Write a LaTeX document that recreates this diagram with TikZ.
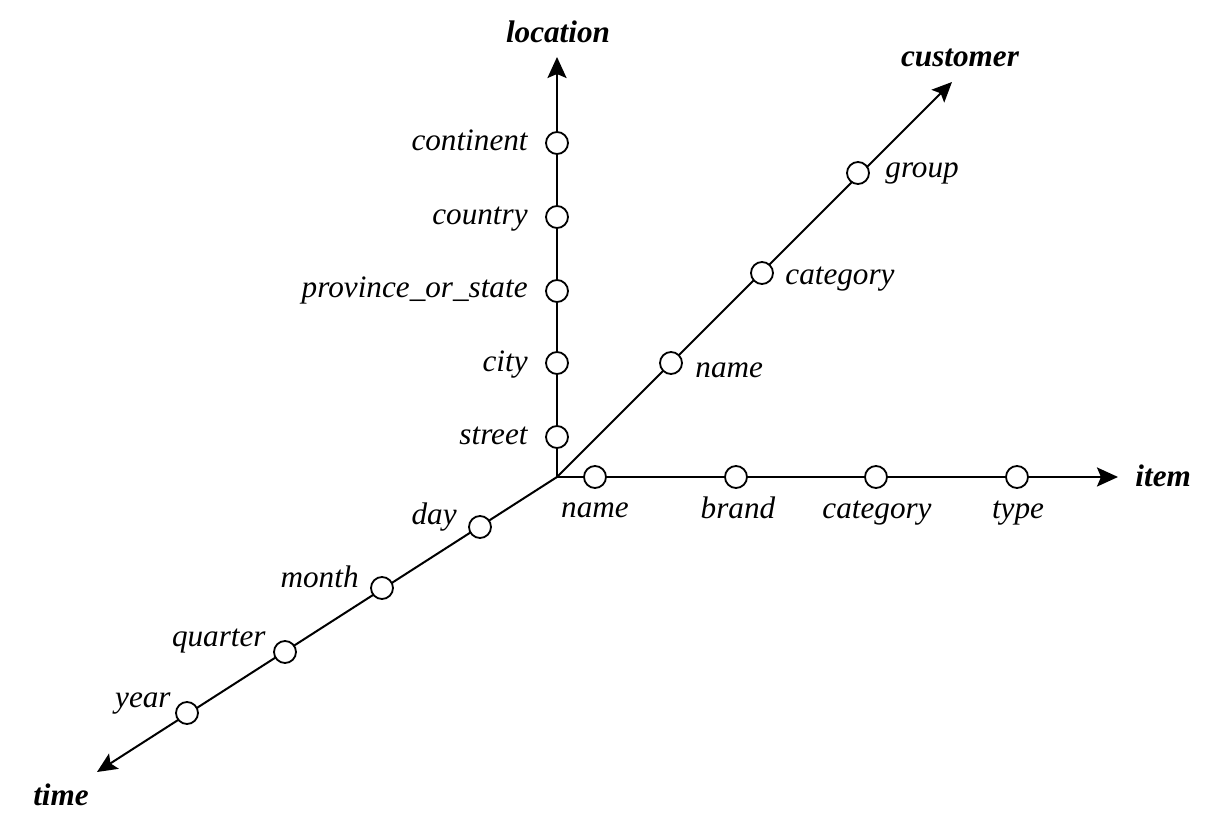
\documentclass[tikz,border=0pt]{standalone}
\usepackage{fontspec}
\setmainfont{LiberationSerif-Regular.ttf}[ItalicFont=LiberationSerif-Italic.ttf, BoldFont=LiberationSerif-Bold.ttf, BoldItalicFont=LiberationSerif-BoldItalic.ttf]
\usetikzlibrary{arrows.meta}
\tikzset{
  dot/.style={circle, draw, fill=white, line width=0.9pt, inner sep=0pt, minimum size=11pt},
  lbl/.style={font=\fontsize{15.6}{18}\selectfont\itshape, inner sep=0pt},
  axislbl/.style={font=\fontsize{15.6}{18}\selectfont\bfseries\itshape, inner sep=0pt},
  axis/.style={line width=1.2pt, -{Stealth[length=10.5pt, width=9.5pt, inset=2pt]}},
  diag/.style={line width=1pt, -{Stealth[length=10pt, width=9pt, inset=2pt]}},
}
\begin{document}
\begin{tikzpicture}[x=0.5pt, y=-0.5pt]
                \useasboundingbox (0,0) rectangle (1232,822);
                \coordinate (o) at (557,477);
                \coordinate (locend) at (557,57);
                \coordinate (itemend) at (1118,477);
                \coordinate (custend) at (952,82);
                \coordinate (timeend) at (97,772);

                \draw[axis] (o) -- (locend);
                \draw[axis] (o) -- (itemend);
                \draw[diag] (o) -- (custend);
                \draw[diag] (o) -- (timeend);

                \node[axislbl, anchor=base] (location) at (558,43) {location};
                \node[dot] (street) at (557,437) {};
                \node[dot] (city) at (557,363) {};
                \node[dot] (province) at (557,291) {};
                \node[dot] (country) at (557,217) {};
                \node[dot] (continent) at (557,143) {};
                \node[lbl, anchor=base east] (streetlbl) at (528,445) {street};
                \node[lbl, anchor=base east] (citylbl) at (528,372) {city};
                \node[lbl, anchor=base east] (provincelbl) at (528,298) {province\_or\_state};
                \node[lbl, anchor=base east] (countrylbl) at (528,225) {country};
                \node[lbl, anchor=base east] (continentlbl) at (528,151) {continent};

                \node[axislbl, anchor=base west] (item) at (1135,487) {item};
                \node[dot] (iname) at (595,477) {};
                \node[dot] (brand) at (736,477) {};
                \node[dot] (icategory) at (876,477) {};
                \node[dot] (type) at (1017,477) {};
                \node[lbl, anchor=base] (inamelbl) at (595,518) {name};
                \node[lbl, anchor=base] (brandlbl) at (738,519) {brand};
                \node[lbl, anchor=base] (icategorylbl) at (877,519) {category};
                \node[lbl, anchor=base] (typelbl) at (1018,519) {type};

                \node[axislbl, anchor=base] (customer) at (960,67) {customer};
                \node[dot] (cname) at (671,363) {};
                \node[dot] (ccategory) at (762,273) {};
                \node[dot] (group) at (858,173) {};
                \node[lbl, anchor=base west] (cnamelbl) at (695,378) {name};
                \node[lbl, anchor=base west] (ccategorylbl) at (785,285) {category};
                \node[lbl, anchor=base west] (grouplbl) at (885,178) {group};

                \node[axislbl, anchor=base] (time) at (61,806) {time};
                \node[dot] (day) at (480,527) {};
                \node[dot] (month) at (382,588) {};
                \node[dot] (quarter) at (285,652) {};
                \node[dot] (year) at (187,713) {};
                \node[lbl, anchor=base east] (daylbl) at (457,525) {day};
                \node[lbl, anchor=base east] (monthlbl) at (359,588) {month};
                \node[lbl, anchor=base east] (quarterlbl) at (266,647) {quarter};
                \node[lbl, anchor=base east] (yearlbl) at (171,708) {year};
            \end{tikzpicture}
\end{document}
